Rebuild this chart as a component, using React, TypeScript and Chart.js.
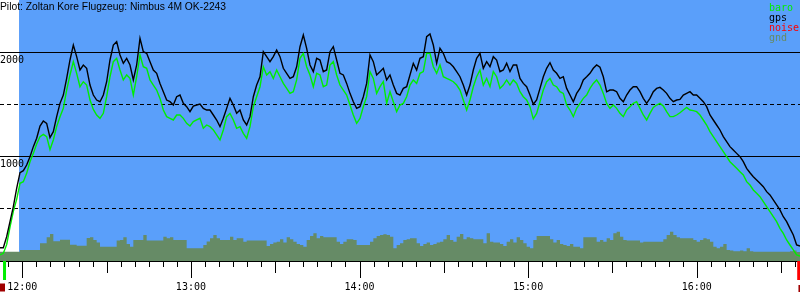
import { useEffect, useRef } from "react";
import { Chart, registerables } from "chart.js";

Chart.register(...registerables);

const TITLE = "Pilot: Zoltan Kore Flugzeug: Nimbus 4M OK-2243";
const LEGEND_NAMES = ["baro", "gps", "noise", "gnd"];

// logger samples: time of first sample (minutes after 12:00) and sampling interval
const SAMPLE_START_MIN = -7.94;
const SAMPLE_STEP_MIN = 1.1862;

const GPS_ALT = [
  121, 121, 227, 371, 516, 692, 842, 862, 916, 996,
  1093, 1173, 1291, 1339, 1317, 1180, 1237, 1381, 1509, 1589,
  1749, 1926, 2070, 1958, 1830, 1878, 1846, 1685, 1589, 1541,
  1525, 1589, 1717, 1926, 2070, 2102, 1974, 1894, 1942, 1878,
  1734, 1878, 2134, 2006, 1990, 1910, 1830, 1798, 1701, 1621,
  1541, 1525, 1493, 1573, 1589, 1509, 1477, 1429, 1483, 1493,
  1503,
  1461, 1445, 1445, 1397, 1349, 1285, 1365, 1461, 1557, 1493,
  1413, 1445, 1349, 1301, 1381, 1573, 1685, 1765, 2006, 1958,
  1910, 1958, 2022, 1958, 1846, 1798, 1749, 1765, 1861, 2054,
  2166, 2038, 1878, 1814, 1942, 1926, 1814, 1830, 2006, 2054,
  1926, 1798, 1782, 1701, 1605, 1525, 1461, 1477, 1573, 1701,
  1975, 1910, 1782, 1814, 1846, 1734, 1782, 1685, 1605, 1589,
  1653, 1669, 1782, 1894, 1830, 1942, 1958, 2150, 2176, 2070,
  1894, 2038, 1990, 1910, 1894, 1861, 1814, 1765, 1685, 1589,
  1685, 1830, 1942, 1990, 1846, 1910, 1861, 1958, 1926, 1814,
  1830, 1894, 1814, 1878, 1878, 1749, 1701, 1669, 1589, 1500,
  1541, 1653, 1765, 1846, 1900, 1830, 1798, 1749, 1765, 1653,
  1589, 1525, 1605, 1653, 1734, 1765, 1798, 1846, 1878, 1856,
  1765, 1620, 1637, 1637, 1621, 1557, 1525, 1589, 1637, 1669,
  1669, 1621, 1557, 1509, 1557, 1621, 1653, 1663, 1637, 1605,
  1557, 1525, 1541, 1547, 1589, 1605, 1621, 1589, 1589, 1557,
  1525, 1477, 1397, 1349, 1301, 1253, 1189, 1141, 1093, 1060,
  1028, 996, 948, 884, 842, 804, 772, 740, 708, 660,
  628, 580, 532, 484, 419, 371, 307, 243, 147, 137,
];

const BARO_ALT = [
  51, 67, 150, 320, 470, 586, 740, 756, 836, 948,
  1028, 1118, 1189, 1211, 1189, 1065, 1157, 1285, 1381, 1461,
  1637, 1782, 1910, 1798, 1669, 1717, 1685, 1541, 1451, 1397,
  1365, 1413, 1573, 1765, 1910, 1942, 1830, 1734, 1782, 1750,
  1589, 1765, 1974, 1861, 1846, 1734, 1685, 1637, 1557, 1445,
  1381, 1365, 1349, 1397, 1397, 1365, 1317, 1291, 1333, 1349,
  1365,
  1269, 1301, 1285, 1253, 1205, 1157, 1253, 1381, 1413, 1349,
  1269, 1285, 1221, 1173, 1285, 1477, 1573, 1669, 1861, 1782,
  1814, 1749, 1830, 1765, 1701, 1653, 1605, 1621, 1734, 1942,
  1990, 1861, 1782, 1669, 1798, 1782, 1669, 1685, 1878, 1910,
  1782, 1685, 1637, 1589, 1493, 1397, 1317, 1365, 1477, 1573,
  1815, 1749, 1605, 1669, 1717, 1509, 1621, 1525, 1429, 1493,
  1509, 1573, 1685, 1734, 1701, 1798, 1814, 1990, 1990, 1861,
  1798, 1878, 1765, 1749, 1734, 1717, 1685, 1637, 1541, 1445,
  1541, 1669, 1765, 1830, 1685, 1749, 1669, 1814, 1765, 1653,
  1685, 1734, 1685, 1734, 1701, 1621, 1573, 1541, 1477, 1360,
  1413, 1525, 1637, 1717, 1749, 1685, 1669, 1621, 1605, 1493,
  1445, 1381, 1461, 1509, 1557, 1589, 1653, 1701, 1734, 1685,
  1605, 1509, 1461, 1493, 1461, 1413, 1381, 1445, 1477, 1509,
  1525, 1461, 1397, 1349, 1413, 1470, 1493, 1509, 1483, 1429,
  1381, 1381, 1397, 1419, 1445, 1470, 1445, 1439, 1429, 1397,
  1349, 1301, 1237, 1189, 1141, 1093, 1044, 996, 948, 916,
  884, 852, 820, 756, 724, 676, 644, 612, 564, 516,
  468, 419, 371, 307, 259, 195, 147, 99, 51, 41,
];

const GND_ALT = [
  83, 83, 83, 83, 83, 83, 99, 99, 99, 99,
  99, 99, 163, 163, 221, 253, 182, 182, 198, 198,
  198, 150, 150, 140, 140, 140, 215, 221, 195, 170,
  131, 131, 131, 131, 131, 189, 195, 221, 157, 131,
  195, 195, 195, 243, 189, 189, 189, 189, 189, 227,
  211, 221, 195, 195, 195, 195, 115, 115, 115, 115,
  115,
  147, 180, 211, 243, 211, 195, 195, 195, 227, 195,
  211, 211, 179, 189, 189, 189, 189, 189, 189, 137,
  157, 170, 179, 201, 170, 221, 201, 179, 157, 147,
  131, 195, 233, 259, 211, 233, 221, 221, 221, 221,
  179, 157, 179, 201, 201, 195, 147, 147, 147, 147,
  179, 211, 233, 243, 250, 243, 227, 115, 147, 163,
  195, 201, 211, 211, 163, 137, 157, 170, 147, 157,
  170, 179, 201, 243, 195, 179, 227, 253, 201, 221,
  211, 201, 201, 201, 163, 259, 179, 170, 170, 157,
  137, 179, 201, 170, 221, 195, 163, 131, 115, 195,
  233, 233, 233, 233, 201, 170, 195, 157, 147, 137,
  157, 131, 131, 115, 221, 221, 221, 221, 179, 195,
  179, 211, 195, 259, 275, 227, 195, 189, 189, 189,
  189, 170, 179, 179, 179, 179, 179, 179, 201, 243,
  275, 243, 221, 211, 211, 211, 211, 195, 179, 195,
  211, 201, 179, 131, 115, 131, 157, 99, 93, 86,
  86, 93, 86, 115, 86, 83, 83, 83, 83, 83,
  83, 83, 83, 83, 83, 83, 86, 93, 80, 80,
];

const TIME_LABELS = ["12:00", "13:00", "14:00", "15:00", "16:00"];
const TIME_LABEL_MIN = [0, 60, 120, 180, 240];
const ALT_LINES = [500, 1000, 1500, 2000];
const ALT_LABELS = [1000, 2000];

const X_MIN = -7.94;
const X_MAX = 276.76;
const Y_MIN = -7;
const Y_MAX = 2503;
const TICK_FIRST_MIN = -5;
const TICK_LAST_MIN = 275;
const TICK_STEP_MIN = 5;
const TAKEOFF_MIN = -1.17;
const START_MARK_MIN = -6.33;
const END_MARK_MIN = 276.3;
const START_BOX_MIN = -7.05;
const END_BOX_MIN = 277.1;

const BLUE = "#5a9ffa";
const GREEN = "#00ee00";
const GND_COLOR = "#668b66";
const RED = "#ff0000";
const DARK_RED = "#a00000";

const MONO = '10px "DejaVu Sans Mono"';

const decorPlugin = {
  id: "decor",
  beforeDraw(chart: any) {
    const { ctx, chartArea, scales } = chart;
    const x = scales.x;
    const y = scales.y;
    ctx.save();
    ctx.fillStyle = "#ffffff";
    ctx.fillRect(0, 0, chart.width, chart.height);
    const xt = x.getPixelForValue(TAKEOFF_MIN);
    ctx.fillStyle = BLUE;
    ctx.fillRect(xt, chartArea.top, chartArea.right - xt, chartArea.bottom - chartArea.top);
    ctx.strokeStyle = "#000000";
    ctx.lineWidth = 1;
    for (const v of ALT_LINES) {
      const py = Math.round(y.getPixelForValue(v)) + 0.5;
      ctx.setLineDash(v % 1000 === 0 ? [] : [4, 3]);
      ctx.beginPath();
      ctx.moveTo(0, py);
      ctx.lineTo(chart.width, py);
      ctx.stroke();
    }
    ctx.setLineDash([]);
    ctx.restore();
  },
  afterDraw(chart: any) {
    const { ctx, chartArea, scales } = chart;
    const x = scales.x;
    const y = scales.y;
    const base = chartArea.bottom;
    ctx.save();
    // axis line
    ctx.strokeStyle = "#000000";
    ctx.lineWidth = 1;
    ctx.beginPath();
    ctx.moveTo(0, base + 0.5);
    ctx.lineTo(chart.width, base + 0.5);
    ctx.stroke();
    // ticks
    for (let m = TICK_FIRST_MIN; m <= TICK_LAST_MIN; m += TICK_STEP_MIN) {
      const px = Math.round(x.getPixelForValue(m)) + 0.5;
      const mm = ((m % 60) + 60) % 60;
      const len = mm === 0 ? 17 : mm === 30 ? 12 : 6;
      ctx.beginPath();
      ctx.moveTo(px, base);
      ctx.lineTo(px, base + len);
      ctx.stroke();
    }
    // markers
    const sx = x.getPixelForValue(START_MARK_MIN);
    ctx.fillStyle = GREEN;
    ctx.fillRect(sx - 1.5, base, 3, 19);
    const ex = x.getPixelForValue(END_MARK_MIN);
    ctx.fillStyle = RED;
    ctx.fillRect(ex - 1.5, base, 3, 19);
    ctx.fillStyle = DARK_RED;
    const bx = x.getPixelForValue(START_BOX_MIN);
    ctx.fillRect(bx - 2.5, base + 22.5, 5, 8);
    const bx2 = x.getPixelForValue(END_BOX_MIN);
    ctx.fillRect(bx2 - 2.5, base + 24, 5, 7);
    // time labels
    ctx.fillStyle = "#000000";
    ctx.font = MONO;
    ctx.textAlign = "center";
    ctx.textBaseline = "alphabetic";
    TIME_LABELS.forEach((lab, i) => {
      ctx.fillText(lab, x.getPixelForValue(TIME_LABEL_MIN[i]), base + 28.5);
    });
    // altitude labels
    ctx.textAlign = "left";
    for (const v of ALT_LABELS) {
      ctx.fillText(String(v), 0, Math.round(y.getPixelForValue(v)) + 10.5);
    }
    // title
    ctx.font = '10.3px "Liberation Sans", Arial, sans-serif';
    ctx.fillText(TITLE, 0, 9.5);
    // legend
    ctx.font = MONO;
    const colors = [GREEN, "#000000", RED, GND_COLOR];
    LEGEND_NAMES.forEach((n, i) => {
      ctx.fillStyle = colors[i];
      ctx.fillText(n, 769, 11 + i * 10);
    });
    ctx.restore();
  },
};

export default function App() {
  const ref = useRef<HTMLCanvasElement | null>(null);
  useEffect(() => {
    if (!ref.current) return;
    const times = GPS_ALT.map((_, i) => SAMPLE_START_MIN + i * SAMPLE_STEP_MIN);
    const chart = new Chart(ref.current, {
      type: "line",
      data: {
        datasets: [
          {
            label: "gps",
            data: GPS_ALT.map((v, i) => ({ x: times[i], y: v })),
            borderColor: "#000000",
            borderWidth: 1.4,
            pointRadius: 0,
            fill: false,
            order: 1,
          },
          {
            label: "baro",
            data: BARO_ALT.map((v, i) => ({ x: times[i], y: v })),
            borderColor: GREEN,
            borderWidth: 1.4,
            pointRadius: 0,
            fill: false,
            order: 2,
          },
          {
            label: "gnd",
            data: GND_ALT.map((v, i) => ({ x: times[i], y: v })),
            borderColor: GND_COLOR,
            backgroundColor: GND_COLOR,
            borderWidth: 0,
            pointRadius: 0,
            stepped: true,
            fill: "start",
            order: 3,
          },
        ],
      },
      options: {
        animation: false,
        responsive: false,
        maintainAspectRatio: false,
        devicePixelRatio: 1,
        layout: { padding: { left: 0, right: 0, top: 0, bottom: 39 } },
        plugins: { legend: { display: false }, title: { display: false }, tooltip: { enabled: false } },
        events: [],
        scales: {
          x: { type: "linear", min: X_MIN, max: X_MAX, display: false },
          y: { type: "linear", min: Y_MIN, max: Y_MAX, display: false },
        },
      },
      plugins: [decorPlugin],
    });
    return () => chart.destroy();
  }, []);
  return (
    <div style={{ position: "absolute", left: 0, top: 0, width: 800, height: 300 }}>
      <canvas ref={ref} width={800} height={300} style={{ display: "block", width: 800, height: 300 }} />
    </div>
  );
}
